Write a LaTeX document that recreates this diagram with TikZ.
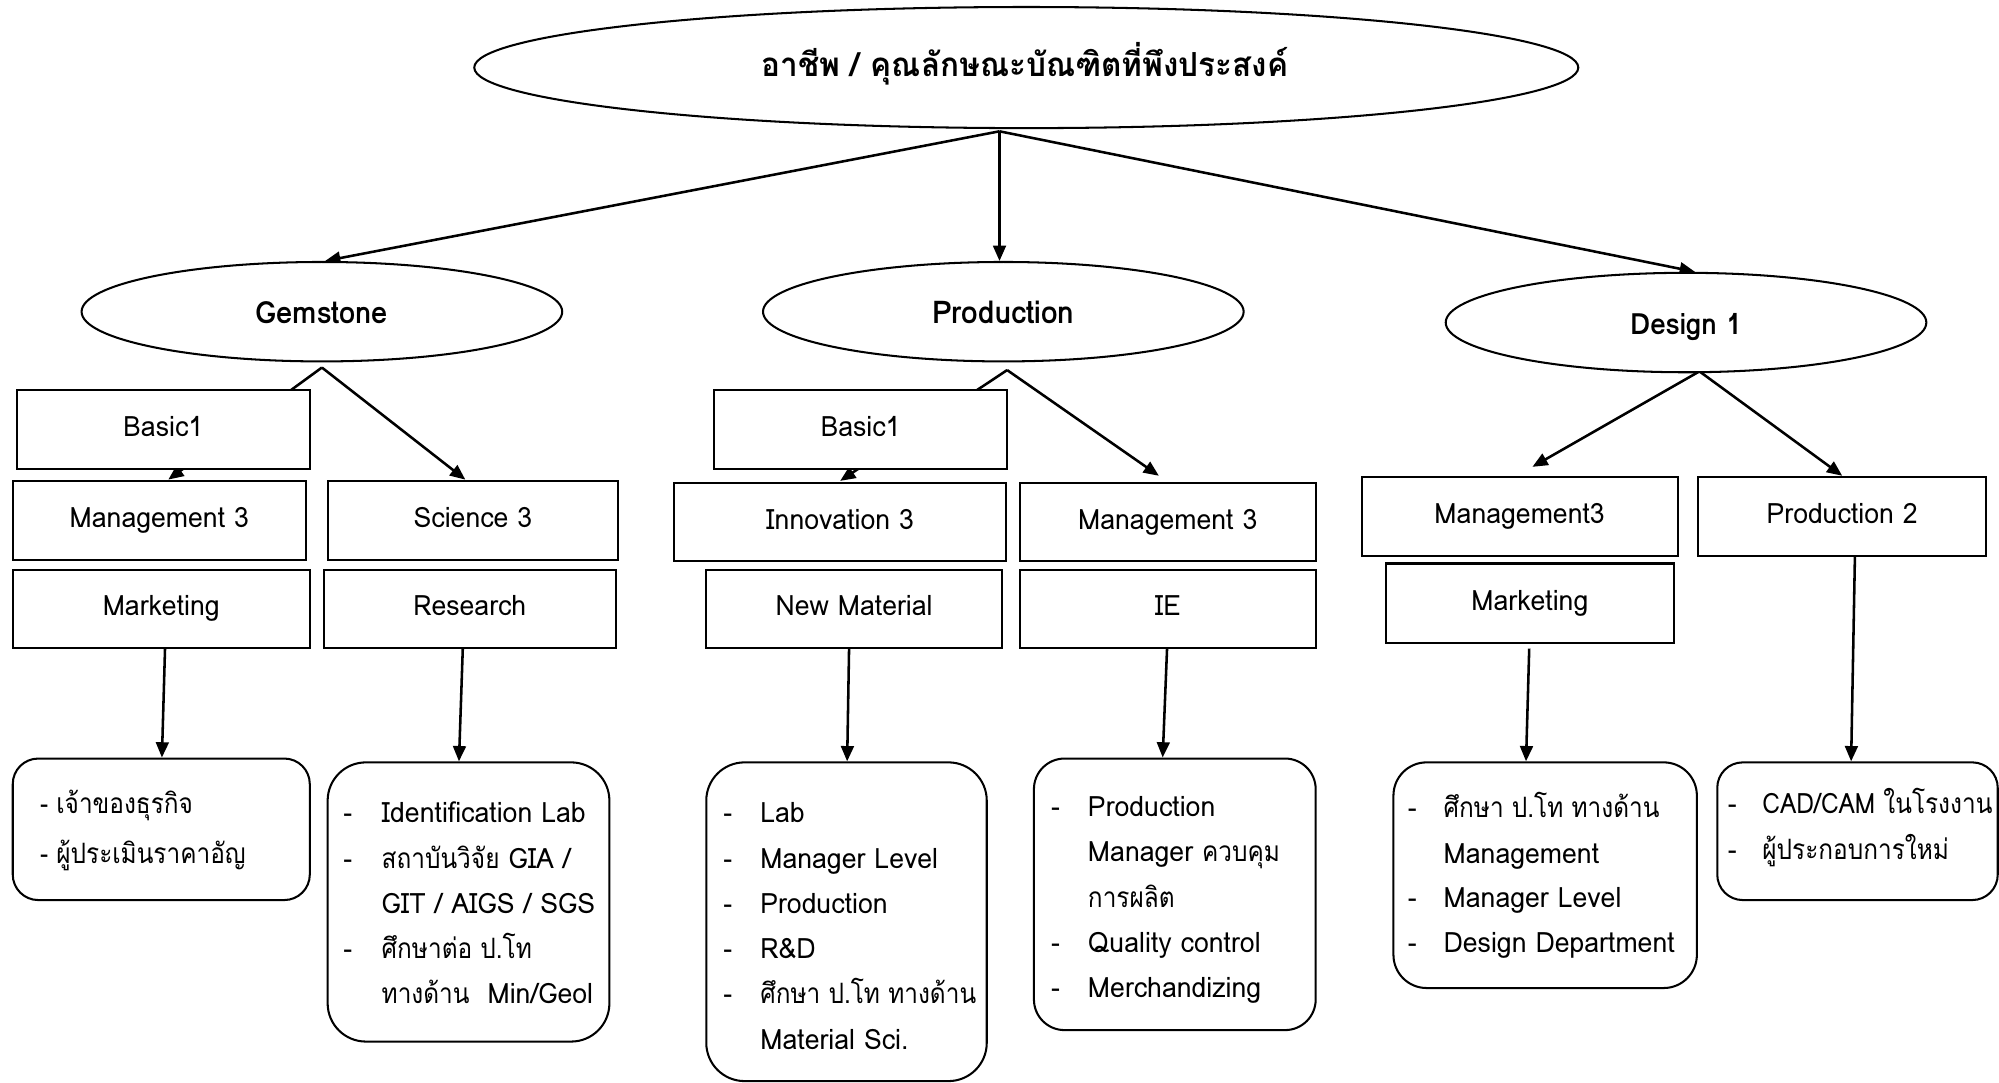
\documentclass[tikz,border=0pt]{standalone}
\usepackage{fontspec}
\setmainfont[Script=Thai,FakeStretch=0.95]{Loma}
\newfontfamily\thfont[Script=Thai,FakeStretch=0.87]{Loma}
\newcommand\tht[1]{{\thfont #1}}
\usetikzlibrary{arrows.meta,shapes.geometric}
\pgfdeclarelayer{bg}
\pgfsetlayers{bg,main}
\newcommand\txtsz{\fontsize{11}{13}\selectfont}
\begin{document}
\begin{tikzpicture}[x=0.5pt,y=-0.5pt,
  every node/.style={inner sep=0pt},
  ell/.style={draw, ellipse, line width=0.8pt, fill=white},
  ttl/.style={anchor=base, font=\bfseries\fontsize{12}{14}\selectfont},
  box/.style={draw, rectangle, line width=0.8pt, fill=white, font=\txtsz, text height=7.5pt, text depth=2pt},
  rbox/.style={draw, rectangle, line width=0.8pt, fill=white},
  conn/.style={line width=1pt, -{Triangle[length=6pt,width=5pt]}},
  lbl/.style={anchor=base west, font=\txtsz},
]
\useasboundingbox (0,0) rectangle (1568,849);

% ellipses
\node[ell, minimum width=433pt, minimum height=47.5pt] (top) at (805,53) {};
\node[anchor=base, font=\bfseries\fontsize{13}{15}\selectfont] (title) at (804,60) {อาชีพ / คุณลักษณะบัณฑิตที่พึงประสงค์};
\node[ell, minimum width=188.5pt, minimum height=39pt] (gem) at (252.5,244.5) {};
\node[ttl] (gemt) at (252.5,254) {Gemstone};
\node[ell, minimum width=188.5pt, minimum height=39pt] (prod) at (787,244.5) {};
\node[ttl, font=\bfseries\fontsize{12.3}{14}\selectfont] (prodt) at (787,254) {Production};
\node[ell, minimum width=188.5pt, minimum height=39pt] (des) at (1322.5,253) {};
\node[ttl, font=\bfseries\fontsize{11.5}{14}\selectfont] (dest) at (1322.5,262) {Design 1};

% rectangles
\node[box, minimum width=115pt, minimum height=31pt] (gB1) at (128,337) {Basic1};
\node[box, minimum width=115pt, minimum height=31pt] (gM3) at (125,408) {Management 3};
\node[box, minimum width=116.5pt, minimum height=30.5pt] (gMk) at (126.5,477.5) {Marketing};
\node[box, minimum width=114pt, minimum height=31pt] (gS3) at (371,408) {Science 3};
\node[box, minimum width=114.5pt, minimum height=30.5pt] (gR) at (368.5,477.5) {Research};

\node[box, minimum width=115pt, minimum height=31pt] (pB1) at (675,337) {Basic1};
\node[box, minimum width=130pt, minimum height=30.5pt] (pI3) at (659,409.5) {Innovation 3};
\node[box, minimum width=116pt, minimum height=30.5pt] (pM3) at (916,409.5) {Management 3};
\node[box, minimum width=116pt, minimum height=30.5pt] (pNM) at (670,477.5) {New Material};
\node[box, minimum width=116pt, minimum height=30.5pt] (pIE) at (916,477.5) {IE};

\node[box, minimum width=124pt, minimum height=31pt] (dM3) at (1192,405) {Management3};
\node[box, minimum width=113pt, minimum height=31pt] (dP2) at (1445,405) {Production 2};
\node[box, minimum width=113pt, minimum height=31pt] (dMk) at (1200,473) {Marketing};

% rounded boxes
\node[rbox, rounded corners=10pt, minimum width=116.5pt, minimum height=55.5pt] (r1) at (126.5,650.5) {};
\node[rbox, rounded corners=15pt, minimum width=110.5pt, minimum height=109.5pt] (r2) at (367.5,707.5) {};
\node[rbox, rounded corners=15pt, minimum width=110pt, minimum height=125pt] (r3) at (664,723) {};
\node[rbox, rounded corners=12pt, minimum width=110.5pt, minimum height=106.5pt] (r4) at (921.5,701.5) {};
\node[rbox, rounded corners=13pt, minimum width=119pt, minimum height=88.5pt] (r5) at (1212,686.5) {};
\node[rbox, rounded corners=10pt, minimum width=110pt, minimum height=54pt] (r6) at (1457,652) {};

% box 1 text
\node[lbl] (r1a) at (31,638) {\tht{- เจ้าของธุรกิจ}};
\node[lbl] (r1b) at (31,677) {\tht{- ผู้ประเมินราคาอัญ}};
% box 2 text
\node[lbl] (r2d1) at (269,645.5) {-};
\node[lbl] (r2a) at (299,645.5) {Identification Lab};
\node[lbl] (r2d2) at (269,681) {-};
\node[lbl] (r2b) at (299,681) {\tht{สถาบันวิจัย} GIA /};
\node[lbl] (r2c) at (299,716.5) {GIT / AIGS / SGS};
\node[lbl] (r2d3) at (269,752) {-};
\node[lbl] (r2e) at (299,752) {\tht{ศึกษาต่อ ป.โท}};
\node[lbl] (r2f) at (299,787.5) {\tht{ทางด้าน}\ \ Min/Geol};
% box 3 text
\node[lbl] (r3d1) at (567,645.5) {-};
\node[lbl] (r3a) at (596,645.5) {Lab};
\node[lbl] (r3d2) at (567,681) {-};
\node[lbl] (r3b) at (596,681) {Manager Level};
\node[lbl] (r3d3) at (567,716.5) {-};
\node[lbl] (r3c) at (596,716.5) {Production};
\node[lbl] (r3d4) at (567,752) {-};
\node[lbl] (r3e) at (596,752) {R\&D};
\node[lbl] (r3d5) at (567,787.5) {-};
\node[lbl] (r3f) at (596,787.5) {\tht{ศึกษา ป.โท ทางด้าน}};
\node[lbl] (r3g) at (596,823) {Material Sci.};
% box 4 text
\node[lbl] (r4d1) at (824,640.5) {-};
\node[lbl] (r4a) at (853,640.5) {Production};
\node[lbl] (r4b) at (853,676) {Manager \tht{ควบคุม}};
\node[lbl] (r4c) at (853,711.5) {\tht{การผลิต}};
\node[lbl] (r4d2) at (824,747) {-};
\node[lbl] (r4e) at (853,747) {Quality control};
\node[lbl] (r4d3) at (824,782.5) {-};
\node[lbl] (r4f) at (853,782.5) {Merchandizing};
% box 5 text
\node[lbl] (r5d1) at (1104,641.5) {-};
\node[lbl] (r5a) at (1132,641.5) {\tht{ศึกษา ป.โท ทางด้าน}};
\node[lbl] (r5b) at (1132,677) {Management};
\node[lbl] (r5d2) at (1104,712) {-};
\node[lbl] (r5c) at (1132,712) {Manager Level};
\node[lbl] (r5d3) at (1104,747.5) {-};
\node[lbl] (r5e) at (1132,747.5) {Design Department};
% box 6 text
\node[lbl] (r6d1) at (1355,638) {-};
\node[lbl] (r6a) at (1382,638) {\tht{CAD/CAM ในโรงงาน}};
\node[lbl] (r6d2) at (1355,674.5) {-};
\node[lbl] (r6b) at (1382,674.5) {\tht{ผู้ประกอบการใหม่}};

% connectors
\begin{pgfonlayer}{bg}
\coordinate (o) at (784,103);
\draw[conn] (o) -- ([shift={(2.5,0)}]gem.north);
\draw[conn] (o) -- (o |- prod.north);
\draw[conn] (o) -- ([shift={(7,0)}]des.north);

\draw[conn] ([shift={(0,4)}]gem.south) -- ([shift={(7,0)}]gM3.north);
\draw[conn] ([shift={(0,4)}]gem.south) -- ([shift={(-6,0)}]gS3.north);
\draw[conn] ([shift={(3,6)}]prod.south) -- ([shift={(0,-1)}]pI3.north);
\draw[conn] ([shift={(3,6)}]prod.south) -- ([shift={(-7,-5)}]pM3.north);
\draw[conn] ([shift={(10.5,-1.5)}]des.south) -- ([shift={(10,-7)}]dM3.north);
\draw[conn] ([shift={(10.5,-1.5)}]des.south) -- (dP2.north);

\draw[conn] ([shift={(3,-2)}]gMk.south) -- ([shift={(0.5,0)}]r1.north);
\draw[conn] ([shift={(-5.5,0)}]gR.south) -- ([shift={(-7.5,0)}]r2.north);
\draw[conn] ([shift={(-4,0)}]pNM.south) -- ([shift={(0.5,0)}]r3.north);
\draw[conn] ([shift={(-0.5,-2)}]pIE.south) -- ([shift={(-9.5,0)}]r4.north);
\draw[conn] ([shift={(-0.5,4)}]dMk.south) -- ([shift={(-15,0)}]r5.north);
\draw[conn] ([shift={(10,-2)}]dP2.south) -- ([shift={(-5,0)}]r6.north);
\end{pgfonlayer}
\end{tikzpicture}
\end{document}
